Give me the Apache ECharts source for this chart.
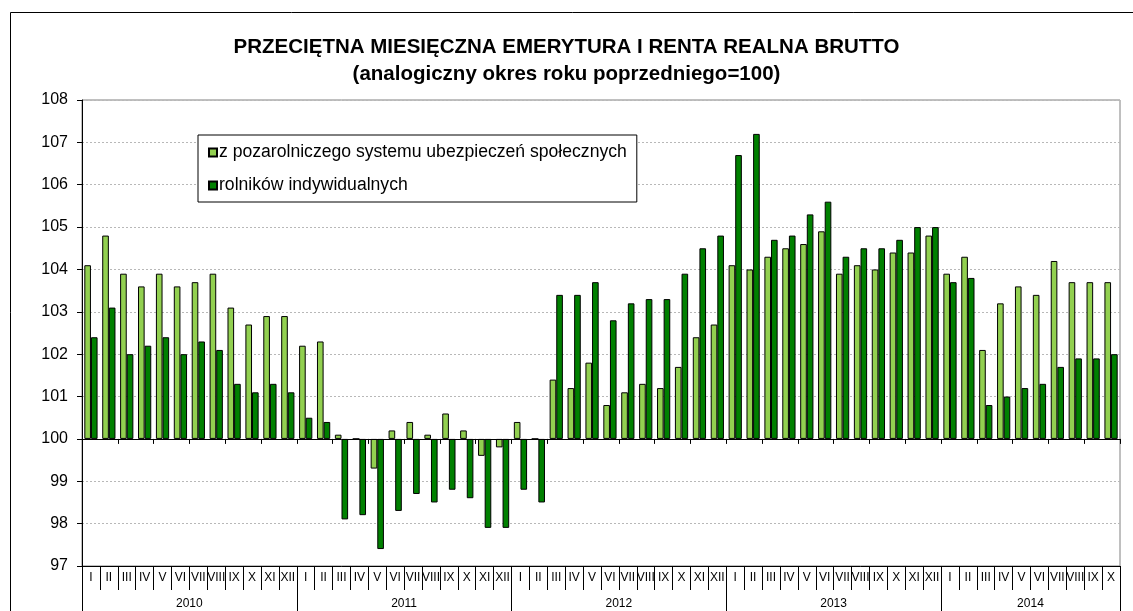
<!DOCTYPE html>
<html>
<head>
<meta charset="utf-8">
<script src="https://cdn.jsdelivr.net/npm/echarts@6/dist/echarts.min.js"></script>
<style>
    html, body { margin: 0; padding: 0; background: #fff; }
    #chart { width: 1133px; height: 611px; }
</style>
</head>
<body>
<div id="chart"></div>
<script>
// miesiące 2010 I - 2014 X
const romans = ['I', 'II', 'III', 'IV', 'V', 'VI', 'VII', 'VIII', 'IX', 'X', 'XI', 'XII'];
const years = ['2010', '2011', '2012', '2013', '2014'];
const monthsIn2014 = 10;

// z pozarolniczego systemu ubezpieczeń społecznych
const pozarolniczy = [
    104.1, 104.8, 103.9, 103.6, 103.9, 103.6, 103.7, 103.9, 103.1, 102.7, 102.9, 102.9,
    102.2, 102.3, 100.1, 100.0, 99.3, 100.2, 100.4, 100.1, 100.6, 100.2, 99.6, 99.8,
    100.4, 100.0, 101.4, 101.2, 101.8, 100.8, 101.1, 101.3, 101.2, 101.7, 102.4, 102.7,
    104.1, 104.0, 104.3, 104.5, 104.6, 104.9, 103.9, 104.1, 104.0, 104.4, 104.4, 104.8,
    103.9, 104.3, 102.1, 103.2, 103.6, 103.4, 104.2, 103.7, 103.7, 103.7
];
// rolników indywidualnych
const rolnicy = [
    102.4, 103.1, 102.0, 102.2, 102.4, 102.0, 102.3, 102.1, 101.3, 101.1, 101.3, 101.1,
    100.5, 100.4, 98.1, 98.2, 97.4, 98.3, 98.7, 98.5, 98.8, 98.6, 97.9, 97.9,
    98.8, 98.5, 103.4, 103.4, 103.7, 102.8, 103.2, 103.3, 103.3, 103.9, 104.5, 104.8,
    106.7, 107.2, 104.7, 104.8, 105.3, 105.6, 104.3, 104.5, 104.5, 104.7, 105.0, 105.0,
    103.7, 103.8, 100.8, 101.0, 101.2, 101.3, 101.7, 101.9, 101.9, 102.0
];

const base = 100;

let months = [];
let yearOfMonth = [];
years.forEach((y, i) => {
    const n = i === years.length - 1 ? monthsIn2014 : 12;
    for (let m = 0; m < n; m++) {
        months.push(romans[m]);
        yearOfMonth.push(y);
    }
});
// indeks etykiety roku - środek przedziału
let yearLabelIdx = {};
let yearStartIdx = {};
years.forEach((y) => {
    const first = yearOfMonth.indexOf(y);
    const last = yearOfMonth.lastIndexOf(y);
    yearStartIdx[first] = true;
    yearLabelIdx[Math.ceil((first + last + 1) / 2)] = y;
});

const fontFamily = 'Liberation Sans, Arial, sans-serif';
const myChart = echarts.init(document.getElementById('chart'));

myChart.setOption({
    animation: false,
    backgroundColor: '#fff',
    title: {
        text: 'PRZECIĘTNA MIESIĘCZNA EMERYTURA I RENTA REALNA BRUTTO\n(analogiczny okres roku poprzedniego=100)',
        left: 'center',
        top: 29,
        textStyle: {
            fontFamily: fontFamily,
            fontSize: 20.5,
            fontWeight: 'bold',
            color: '#000',
            lineHeight: 27
        }
    },
    graphic: [{
        type: 'rect',
        left: 8,
        top: 10,
        shape: { width: 1140, height: 620 },
        style: { fill: 'none', stroke: '#000', lineWidth: 1 },
        silent: true,
        z: -1
    }],
    legend: {
        orient: 'vertical',
        left: 198,
        top: 135,
        padding: [7, 10, 6, 10],
        itemGap: 12,
        itemWidth: 8,
        itemHeight: 8,
        borderColor: '#000',
        borderWidth: 1,
        backgroundColor: '#fff',
        icon: 'rect',
        textStyle: { fontFamily: fontFamily, fontSize: 17.6, color: '#000', lineHeight: 21, padding: [0, 0, 0, -3] },
        data: ['z pozarolniczego systemu ubezpieczeń społecznych', 'rolników indywidualnych']
    },
    grid: {
        left: 82,
        right: 13,
        top: 100,
        bottom: 45,
        show: true,
        borderColor: '#808080',
        borderWidth: 1
    },
    xAxis: [
        {
            type: 'category',
            data: months,
            position: 'bottom',
            axisLine: { onZero: true, lineStyle: { color: '#000', width: 1 } },
            axisTick: { show: true, length: 5, lineStyle: { color: '#000' } },
            axisLabel: { show: false },
            z: 10
        },
        {
            type: 'category',
            data: months,
            position: 'bottom',
            axisLine: { onZero: false, lineStyle: { color: '#000', width: 1 } },
            axisTick: { show: true, length: 24, interval: 0, lineStyle: { color: '#000' } },
            axisLabel: {
                interval: 0,
                margin: 6,
                fontFamily: fontFamily,
                fontSize: 12,
                color: '#000'
            }
        },
        {
            type: 'category',
            data: months,
            position: 'bottom',
            axisLine: { show: false, onZero: false },
            axisTick: {
                show: true,
                length: 50,
                interval: (idx) => yearStartIdx[idx] === true || idx >= months.length,
                lineStyle: { color: '#000' }
            },
            axisLabel: {
                interval: (idx) => yearLabelIdx[idx] !== undefined,
                formatter: (v, idx) => yearLabelIdx[idx] || '',
                margin: 32,
                padding: [0, 18, 0, 0],
                fontFamily: fontFamily,
                fontSize: 12,
                color: '#000'
            }
        }
    ],
    yAxis: {
        type: 'value',
        min: -3,
        max: 8,
        interval: 1,
        axisLine: { show: true, lineStyle: { color: '#000' } },
        axisTick: { show: true, length: 5, lineStyle: { color: '#000' } },
        axisLabel: {
            formatter: (v) => String(v + base),
            fontFamily: fontFamily,
            fontSize: 16,
            color: '#000',
            margin: 14
        },
        splitLine: { show: true, lineStyle: { color: '#b8b8b8', type: [2, 2] } }
    },
    series: [
        {
            name: 'z pozarolniczego systemu ubezpieczeń społecznych',
            type: 'bar',
            xAxisIndex: 0,
            data: pozarolniczy.map((v) => +(v - base).toFixed(1)),
            barGap: '0%',
            barCategoryGap: '26%',
            itemStyle: { color: '#92d050', borderColor: '#000', borderWidth: 1 }
        },
        {
            name: 'rolników indywidualnych',
            type: 'bar',
            xAxisIndex: 0,
            data: rolnicy.map((v) => +(v - base).toFixed(1)),
            barGap: '0%',
            barCategoryGap: '26%',
            itemStyle: { color: '#008000', borderColor: '#000', borderWidth: 1 }
        }
    ]
});
</script>
</body>
</html>
